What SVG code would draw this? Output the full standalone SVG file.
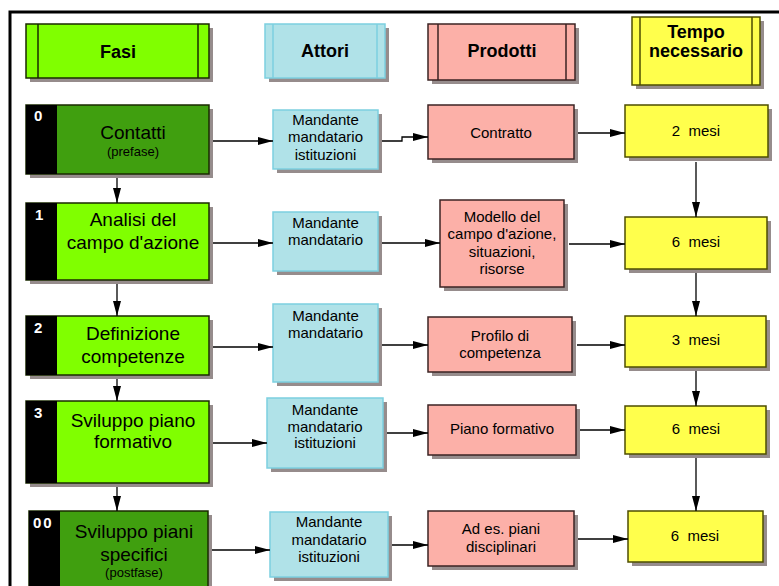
<svg xmlns="http://www.w3.org/2000/svg" width="779" height="586" viewBox="0 0 779 586">
  <style>
    text { font-family: "Liberation Sans", Arial, sans-serif; fill: #000; }
    .hd { font-size: 18px; font-weight: bold; text-anchor: middle; }
    .ph { font-size: 19px; text-anchor: middle; }
    .sub { font-size: 13px; text-anchor: middle; }
    .num { font-size: 15px; font-weight: bold; fill: #fff; }
    .lb { font-size: 15px; text-anchor: middle; }
    .pre { white-space: pre; }
    .sh { fill: #968c8c; }
    .dark { fill: #409f0f; stroke: #1a2a00; stroke-width: 1.5; }
    .lime { fill: #80ff00; stroke: #1a2a00; stroke-width: 1.5; }
    .strip { fill: #000; }
    .act { fill: #b0e2e8; stroke: #7ccfe0; stroke-width: 1.5; }
    .prd { fill: #fcb0a8; stroke: #3b2323; stroke-width: 1.5; }
    .tim { fill: #ffff4c; stroke: #4d4d00; stroke-width: 1.5; }
    .sep { stroke-width: 1.5; fill: none; }
    .frame { stroke: #000; stroke-width: 3; fill: none; }
    #connectors path { stroke: #000; stroke-width: 1.3; fill: none; marker-end: url(#ah); }
  </style>
  <defs>
    <marker id="ah" markerWidth="15" markerHeight="10" refX="15" refY="5" orient="auto" markerUnits="userSpaceOnUse">
      <path d="M0,1 L15,5 L0,9 Z" fill="#000"/>
    </marker>
  </defs>

  <rect width="779" height="586" fill="#fff"/>
  <path class="frame" d="M10,586 V12 H779"/>

  <!-- column headers -->
  <g id="hd-fasi">
    <rect class="sh" x="30" y="28" width="183" height="54"/>
    <rect class="lime" x="26" y="24" width="183" height="54"/>
    <path class="sep" stroke="#1a2a00" d="M38,24 V78 M198,24 V78"/>
    <text class="hd" x="118" y="58">Fasi</text>
  </g>
  <g id="hd-attori">
    <rect class="sh" x="269" y="28" width="120" height="54"/>
    <rect class="act" x="265" y="24" width="120" height="54"/>
    <path class="sep" stroke="#7ccfe0" d="M273,24 V78 M377,24 V78"/>
    <text class="hd" x="325" y="57">Attori</text>
  </g>
  <g id="hd-prodotti">
    <rect class="sh" x="432" y="28" width="147" height="56"/>
    <rect class="prd" x="428" y="24" width="147" height="56"/>
    <path class="sep" stroke="#3b2323" d="M438,24 V80 M566,24 V80"/>
    <text class="hd" x="502" y="57">Prodotti</text>
  </g>
  <g id="hd-tempo">
    <rect class="sh" x="636" y="21" width="128" height="68"/>
    <rect class="tim" x="632" y="17" width="128" height="68"/>
    <path class="sep" stroke="#4d4d00" d="M640,17 V85 M752,17 V85"/>
    <text class="hd" x="696" y="38">Tempo</text>
    <text class="hd" x="696" y="57">necessario</text>
  </g>

  <!-- phases -->
  <g id="phase-0">
    <rect class="sh" x="30" y="109" width="183" height="69"/>
    <rect class="dark" x="26" y="105" width="183" height="69"/>
    <rect class="strip" x="26" y="105" width="31" height="69"/>
    <text class="num" x="34" y="121">0</text>
    <text class="ph" x="133" y="139">Contatti</text>
    <text class="sub" x="133" y="156">(prefase)</text>
  </g>
  <g id="phase-1">
    <rect class="sh" x="30" y="207" width="183" height="77"/>
    <rect class="lime" x="26" y="203" width="183" height="77"/>
    <rect class="strip" x="26" y="203" width="31" height="77"/>
    <text class="num" x="35" y="220">1</text>
    <text class="ph" x="133" y="226">Analisi del</text>
    <text class="ph" x="133" y="249">campo d'azione</text>
  </g>
  <g id="phase-2">
    <rect class="sh" x="30" y="320" width="183" height="59"/>
    <rect class="lime" x="26" y="316" width="183" height="59"/>
    <rect class="strip" x="26" y="316" width="31" height="59"/>
    <text class="num" x="34" y="333">2</text>
    <text class="ph" x="133" y="340">Definizione</text>
    <text class="ph" x="133" y="363">competenze</text>
  </g>
  <g id="phase-3">
    <rect class="sh" x="30" y="405" width="183" height="82"/>
    <rect class="lime" x="26" y="401" width="183" height="82"/>
    <rect class="strip" x="26" y="401" width="31" height="82"/>
    <text class="num" x="34" y="418">3</text>
    <text class="ph" x="133" y="427">Sviluppo piano</text>
    <text class="ph" x="133" y="448">formativo</text>
  </g>
  <g id="phase-00">
    <rect class="sh" x="33" y="515" width="179" height="90"/>
    <rect class="dark" x="29" y="511" width="179" height="90"/>
    <rect class="strip" x="29" y="511" width="31" height="90"/>
    <text class="num" x="33" y="528" letter-spacing="2">00</text>
    <text class="ph" x="134" y="538">Sviluppo piani</text>
    <text class="ph" x="134" y="561">specifici</text>
    <text class="sub" x="134" y="577">(postfase)</text>
  </g>

  <!-- actors -->
  <g id="actors-0">
    <rect class="sh" x="277" y="114" width="105" height="59"/>
    <rect class="act" x="273" y="110" width="105" height="59"/>
    <text class="lb" x="325.5" y="125">Mandante</text>
    <text class="lb" x="325.5" y="142">mandatario</text>
    <text class="lb" x="325.5" y="160">istituzioni</text>
  </g>
  <g id="actors-1">
    <rect class="sh" x="277" y="216" width="105" height="59"/>
    <rect class="act" x="273" y="212" width="105" height="59"/>
    <text class="lb" x="325.5" y="228">Mandante</text>
    <text class="lb" x="325.5" y="245">mandatario</text>
  </g>
  <g id="actors-2">
    <rect class="sh" x="277" y="308" width="105" height="78"/>
    <rect class="act" x="273" y="304" width="105" height="78"/>
    <text class="lb" x="325.5" y="321">Mandante</text>
    <text class="lb" x="325.5" y="338">mandatario</text>
  </g>
  <g id="actors-3">
    <rect class="sh" x="271" y="402" width="116" height="70"/>
    <rect class="act" x="267" y="398" width="116" height="70"/>
    <text class="lb" x="325" y="415">Mandante</text>
    <text class="lb" x="325" y="432">mandatario</text>
    <text class="lb" x="325" y="448">istituzioni</text>
  </g>
  <g id="actors-4">
    <rect class="sh" x="274" y="516" width="118" height="65"/>
    <rect class="act" x="270" y="512" width="118" height="65"/>
    <text class="lb" x="329" y="527">Mandante</text>
    <text class="lb" x="329" y="545">mandatario</text>
    <text class="lb" x="329" y="562">istituzioni</text>
  </g>

  <!-- products -->
  <g id="product-0">
    <rect class="sh" x="432" y="109" width="146" height="54"/>
    <rect class="prd" x="428" y="105" width="146" height="54"/>
    <text class="lb" x="501" y="138">Contratto</text>
  </g>
  <g id="product-1">
    <rect class="sh" x="444" y="204" width="124" height="87"/>
    <rect class="prd" x="440" y="200" width="124" height="87"/>
    <text class="lb" x="502" y="222">Modello del</text>
    <text class="lb" x="502" y="239">campo d'azione,</text>
    <text class="lb" x="502" y="257">situazioni,</text>
    <text class="lb" x="502" y="274">risorse</text>
  </g>
  <g id="product-2">
    <rect class="sh" x="432" y="321" width="144" height="55"/>
    <rect class="prd" x="428" y="317" width="144" height="55"/>
    <text class="lb" x="500" y="341">Profilo di</text>
    <text class="lb" x="500" y="358">competenza</text>
  </g>
  <g id="product-3">
    <rect class="sh" x="432" y="409" width="148" height="50"/>
    <rect class="prd" x="428" y="405" width="148" height="50"/>
    <text class="lb" x="502" y="434">Piano formativo</text>
  </g>
  <g id="product-4">
    <rect class="sh" x="432" y="515" width="146" height="55"/>
    <rect class="prd" x="428" y="511" width="146" height="55"/>
    <text class="lb" x="501" y="534">Ad es. piani</text>
    <text class="lb" x="501" y="552">disciplinari</text>
  </g>

  <!-- durations -->
  <g id="time-0">
    <rect class="sh" x="629" y="109" width="143" height="52"/>
    <rect class="tim" x="625" y="105" width="143" height="52"/>
    <text class="lb pre" x="696" y="136">2  mesi</text>
  </g>
  <g id="time-1">
    <rect class="sh" x="629" y="221" width="142" height="52"/>
    <rect class="tim" x="625" y="217" width="142" height="52"/>
    <text class="lb pre" x="696" y="247">6  mesi</text>
  </g>
  <g id="time-2">
    <rect class="sh" x="629" y="320" width="141" height="51"/>
    <rect class="tim" x="625" y="316" width="141" height="51"/>
    <text class="lb pre" x="696" y="345">3  mesi</text>
  </g>
  <g id="time-3">
    <rect class="sh" x="629" y="410" width="141" height="48"/>
    <rect class="tim" x="625" y="406" width="141" height="48"/>
    <text class="lb pre" x="696" y="434">6  mesi</text>
  </g>
  <g id="time-4">
    <rect class="sh" x="632" y="515" width="135" height="51"/>
    <rect class="tim" x="628" y="511" width="135" height="51"/>
    <text class="lb pre" x="695" y="541">6  mesi</text>
  </g>

  <g id="connectors">
    <path d="M213,141 H273"/>
    <path d="M382,141 H402 V137 H428"/>
    <path d="M578,133 H625"/>
    <path d="M696,162 V217"/>
    <path d="M117,178 V203"/>
    <path d="M213,243 H273"/>
    <path d="M382,243 H440"/>
    <path d="M569,244 H625"/>
    <path d="M117,284 V316"/>
    <path d="M213,347 H273"/>
    <path d="M382,345 H428"/>
    <path d="M577,345 H625"/>
    <path d="M696,273 V316"/>
    <path d="M696,371 V406"/>
    <path d="M117,379 V401"/>
    <path d="M213,443 H267"/>
    <path d="M387,433 H428"/>
    <path d="M580,430 H625"/>
    <path d="M696,458 V511"/>
    <path d="M117,487 V511"/>
    <path d="M212,550 H270"/>
    <path d="M392,545 H428"/>
    <path d="M578,539 H628"/>
  </g>
</svg>
